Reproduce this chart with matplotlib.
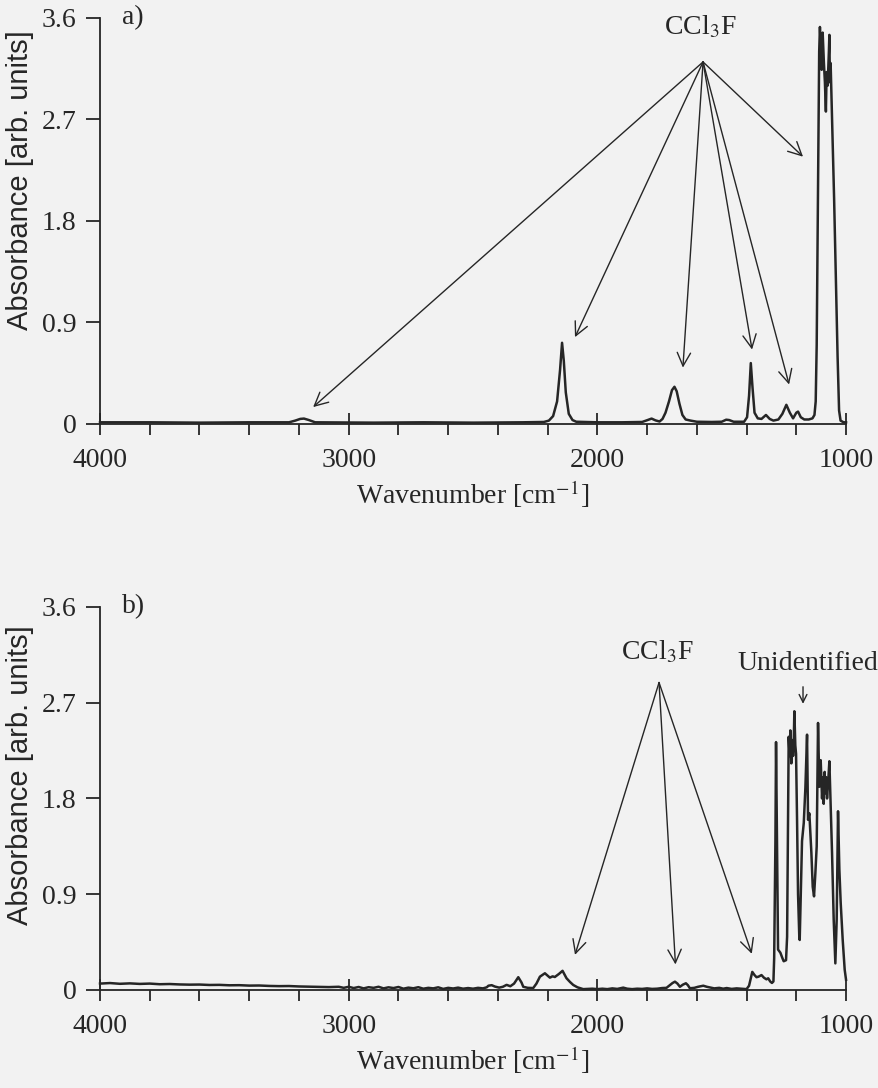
import matplotlib.pyplot as plt
from matplotlib.ticker import MultipleLocator

# traced spectra: (wavenumber [cm-1], absorbance)
spectrum_a = [
    (4000, 0.015), (3800, 0.015), (3600, 0.012), (3400, 0.015), (3240, 0.015),
    (3215, 0.030), (3195, 0.045), (3180, 0.048), (3160, 0.035), (3135, 0.015),
    (2900, 0.012), (2700, 0.015), (2500, 0.012), (2300, 0.015), (2215, 0.018),
    (2195, 0.030), (2178, 0.070), (2162, 0.200), (2150, 0.480), (2142, 0.720),
    (2135, 0.560), (2127, 0.280), (2115, 0.090), (2100, 0.035), (2085, 0.020),
    (2000, 0.015), (1900, 0.015), (1820, 0.018), (1798, 0.035), (1782, 0.048),
    (1766, 0.032), (1750, 0.022), (1738, 0.045), (1726, 0.100), (1712, 0.200),
    (1700, 0.300), (1690, 0.330), (1681, 0.290), (1670, 0.180), (1658, 0.080),
    (1645, 0.040), (1625, 0.030), (1600, 0.020), (1540, 0.018), (1500, 0.020),
    (1482, 0.038), (1470, 0.035), (1452, 0.020), (1410, 0.020), (1398, 0.060),
    (1390, 0.250), (1383, 0.540), (1376, 0.320), (1368, 0.100), (1355, 0.050),
    (1340, 0.045), (1322, 0.080), (1307, 0.045), (1292, 0.030), (1272, 0.040),
    (1256, 0.090), (1240, 0.170), (1226, 0.100), (1213, 0.050), (1200, 0.100),
    (1193, 0.110), (1182, 0.060), (1168, 0.040), (1150, 0.040), (1135, 0.050),
    (1127, 0.080), (1122, 0.200), (1118, 0.700), (1113, 2.000), (1108, 3.300),
    (1105, 3.520), (1101, 3.300), (1098, 3.140), (1094, 3.470), (1089, 3.200),
    (1085, 3.030), (1081, 2.770), (1078, 3.120), (1074, 3.000), (1069, 3.300),
    (1067, 3.450), (1065, 3.030), (1062, 3.200), (1055, 2.600), (1048, 2.000),
    (1041, 1.300), (1034, 0.600), (1028, 0.120), (1022, 0.030), (1010, 0.015),
    (1000, 0.015),
]

spectrum_b = [
    (4000, 0.060), (3960, 0.065), (3920, 0.058), (3880, 0.062), (3840, 0.057),
    (3800, 0.060), (3760, 0.054), (3720, 0.056), (3680, 0.052), (3640, 0.050),
    (3600, 0.051), (3560, 0.047), (3520, 0.048), (3480, 0.044), (3440, 0.045),
    (3400, 0.041), (3360, 0.042), (3320, 0.038), (3280, 0.036), (3240, 0.037),
    (3200, 0.033), (3160, 0.031), (3120, 0.030), (3080, 0.027), (3040, 0.030),
    (3020, 0.020), (3000, 0.030), (2980, 0.018), (2960, 0.028), (2940, 0.015),
    (2920, 0.026), (2900, 0.020), (2880, 0.030), (2860, 0.015), (2840, 0.025),
    (2820, 0.018), (2800, 0.028), (2780, 0.012), (2760, 0.022), (2740, 0.016),
    (2720, 0.026), (2700, 0.012), (2680, 0.020), (2660, 0.015), (2640, 0.025),
    (2620, 0.010), (2600, 0.020), (2580, 0.014), (2560, 0.022), (2540, 0.012),
    (2520, 0.018), (2500, 0.012), (2480, 0.020), (2460, 0.015), (2445, 0.025),
    (2438, 0.040), (2425, 0.045), (2412, 0.032), (2395, 0.022), (2380, 0.030),
    (2365, 0.048), (2350, 0.035), (2335, 0.060), (2318, 0.120), (2305, 0.070),
    (2298, 0.030), (2280, 0.020), (2258, 0.018), (2245, 0.060), (2231, 0.125),
    (2211, 0.157), (2191, 0.116), (2180, 0.128), (2171, 0.122), (2155, 0.150),
    (2140, 0.180), (2124, 0.110), (2110, 0.075), (2097, 0.047), (2080, 0.025),
    (2057, 0.008), (2040, 0.010), (2020, 0.012), (2000, 0.008), (1980, 0.012),
    (1960, 0.008), (1940, 0.015), (1920, 0.010), (1896, 0.022), (1880, 0.012),
    (1860, 0.008), (1840, 0.012), (1820, 0.010), (1800, 0.015), (1780, 0.010),
    (1760, 0.012), (1740, 0.018), (1722, 0.020), (1708, 0.047), (1698, 0.065),
    (1688, 0.078), (1678, 0.060), (1668, 0.030), (1656, 0.050), (1644, 0.063),
    (1636, 0.045), (1628, 0.016), (1610, 0.020), (1595, 0.030), (1574, 0.040),
    (1560, 0.030), (1545, 0.022), (1530, 0.015), (1510, 0.020), (1494, 0.012),
    (1480, 0.018), (1460, 0.010), (1440, 0.015), (1420, 0.012), (1400, 0.008),
    (1390, 0.040), (1382, 0.120), (1377, 0.170), (1368, 0.140), (1360, 0.120),
    (1352, 0.125), (1340, 0.140), (1330, 0.115), (1320, 0.100), (1313, 0.110),
    (1305, 0.080), (1298, 0.066), (1292, 0.080),
    (1289, 0.30), (1284, 1.40), (1281.5, 2.33), (1278, 1.50), (1273.4, 0.38),
    (1264, 0.35), (1256, 0.30), (1250.7, 0.27), (1241.3, 0.28), (1237, 0.50),
    (1233.2, 1.60), (1230.6, 2.38), (1227, 2.20), (1223.9, 2.44), (1220, 2.13),
    (1217.2, 2.35), (1213, 2.20), (1210.5, 2.30), (1207.8, 2.62), (1204, 2.30),
    (1201, 2.22), (1197, 1.60), (1193, 0.90), (1188, 0.50), (1186.3, 0.47),
    (1182, 0.90), (1177, 1.40), (1170, 1.57), (1163.5, 1.90), (1156.8, 2.40),
    (1152.8, 1.60), (1147.5, 1.66), (1139.4, 1.29), (1134, 0.97), (1128.7, 0.88),
    (1123.3, 1.10), (1118, 1.35), (1112.6, 2.51), (1107.3, 1.91), (1101.9, 2.16),
    (1096.5, 1.80), (1093, 2.00), (1089.8, 1.75), (1086, 2.05), (1083.2, 1.85),
    (1080, 2.00), (1076.4, 1.80), (1072, 1.95), (1067, 2.15), (1061.7, 1.72),
    (1056.3, 1.29), (1049.6, 0.66), (1043, 0.25), (1037.6, 0.66), (1032.2, 1.68),
    (1026.8, 1.13), (1021.5, 0.82), (1013.4, 0.47), (1005.4, 0.19), (1000, 0.096),
]

# annotation anchors (wavenumber, absorbance)
label_a = (1587, 3.52)
origin_a = (1575, 3.21)
tips_a = [(3143, 0.15), (2090, 0.77), (1656, 0.50), (1378, 0.66), (1229, 0.35), (1173, 2.37)]

label_b = (1760, 3.18)
origin_b = (1752, 2.89)
tips_b = [(2090, 0.33), (1686, 0.24), (1379, 0.34)]

unident_label = (1153, 3.07)
unident_arrow = [(1173, 2.85), (1173, 2.69)]

x_major = [4000, 3000, 2000, 1000]
y_ticks = [0, 0.9, 1.8, 2.7, 3.6]
y_tick_labels = ['0', '0.9', '1.8', '2.7', '3.6']

plt.rcParams['font.family'] = ['Liberation Serif', 'DejaVu Serif']
plt.rcParams['mathtext.fontset'] = 'stix'

ink = '#262626'
fs = 20

fig = plt.figure(figsize=(8.79, 10.88), dpi=100, facecolor='#f2f2f2')
ax_a = fig.add_axes([0.1138, 0.6103, 0.8487, 0.3732])
ax_b = fig.add_axes([0.1138, 0.0901, 0.8487, 0.3520])


def style(ax, tag, ylab_y):
    ax.set_facecolor('none')
    ax.set_xlim(4000, 1000)
    ax.set_ylim(0, 3.6)
    for s in ['top', 'right']:
        ax.spines[s].set_visible(False)
    for s in ['left', 'bottom']:
        ax.spines[s].set_linewidth(1.3)
        ax.spines[s].set_color(ink)
    ax.set_xticks(x_major)
    ax.set_xticklabels([str(v) for v in x_major])
    ax.xaxis.set_minor_locator(MultipleLocator(200))
    ax.set_yticks(y_ticks)
    ax.set_yticklabels(y_tick_labels)
    ax.tick_params(axis='x', which='major', direction='inout', length=16, width=1.3,
                   pad=9, labelsize=fs, colors=ink)
    ax.tick_params(axis='x', which='minor', direction='out', length=8, width=1.3, colors=ink)
    ax.tick_params(axis='y', direction='out', length=10, width=1.3, pad=7,
                   labelsize=fs, colors=ink)
    ax.set_xlabel('Wavenumber [cm$^{-1}$]', fontsize=fs, color=ink, labelpad=4)
    ax.set_ylabel('Absorbance [arb. units]', fontsize=21, color=ink,
                  family=['Liberation Sans', 'DejaVu Sans'])
    ax.yaxis.set_label_coords(-0.088, ylab_y)
    ax.text(0.03, 1.0, tag, transform=ax.transAxes, ha='left', va='center',
            fontsize=fs, color=ink)


def draw_arrow(ax, start, end, scale=24):
    ax.annotate('', xy=end, xytext=start,
                arrowprops=dict(arrowstyle='->', color=ink, lw=1.0,
                                shrinkA=0, shrinkB=0, mutation_scale=scale))


style(ax_a, 'a)', 0.60)
style(ax_b, 'b)', 0.56)

wn, ab = zip(*spectrum_a)
ax_a.plot(wn, ab, color=ink, lw=1.8, clip_on=False)
ax_a.text(*label_a, 'CCl$_3$F', ha='center', va='center', fontsize=fs, color=ink)
for tip in tips_a:
    draw_arrow(ax_a, origin_a, tip)

wn, ab = zip(*spectrum_b)
ax_b.plot(wn, ab, color=ink, lw=1.8, clip_on=False)
ax_b.text(*label_b, 'CCl$_3$F', ha='center', va='center', fontsize=fs, color=ink)
for tip in tips_b:
    draw_arrow(ax_b, origin_b, tip)
ax_b.text(*unident_label, 'Unidentified', ha='center', va='center', fontsize=fs, color=ink)
draw_arrow(ax_b, unident_arrow[0], unident_arrow[1], scale=14)

fig.savefig('out.png', dpi=100, facecolor=fig.get_facecolor())
